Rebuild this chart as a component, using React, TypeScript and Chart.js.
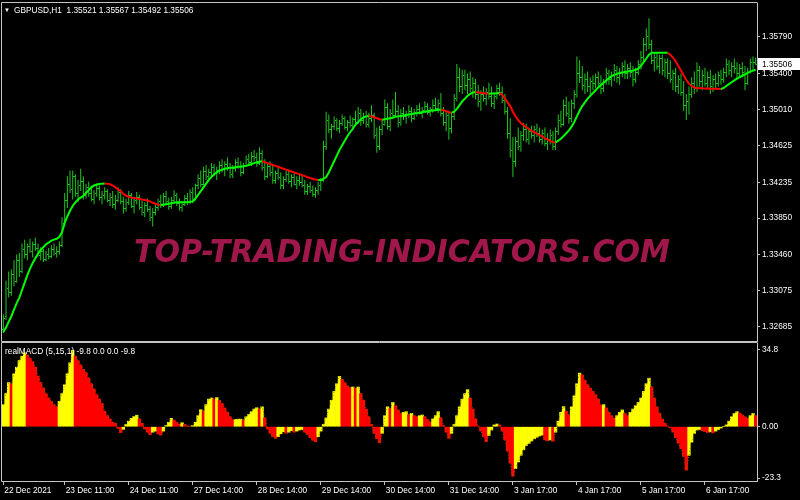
import React, { useEffect, useRef } from 'react';
import { Chart, registerables } from 'chart.js';

Chart.register(...registerables);

// Prices are stored as pip offsets from BASE (1 pip = 0.0001)
const BASE = 1.32;

const opens = [
  66, 80, 110, 106, 125, 118, 140, 128, 152, 147,
  155, 150, 157, 153, 146, 150, 141, 147, 144, 152,
  148, 150, 156, 180, 205, 222, 216, 230, 212, 220,
  225, 210, 218, 212, 206, 212, 217, 208, 210, 214,
  205, 208, 200, 205, 213, 203, 196, 202, 210, 198,
  204, 208, 197, 192, 199, 195, 186, 192, 197, 203,
  199, 209, 203, 198, 205, 210, 201, 197, 200, 207,
  202, 213, 206, 220, 228, 222, 236, 230, 234, 240,
  233, 237, 242, 238, 243, 240, 232, 239, 245, 241,
  234, 242, 248, 245, 252, 250, 244, 255, 240, 230,
  241, 234, 226, 233, 229, 220, 227, 232, 225, 229,
  222, 226, 224, 221, 214, 219, 215, 211, 215, 220,
  226, 262, 290, 280, 284, 290, 282, 287, 292, 283,
  288, 285, 291, 288, 298, 290, 294, 286, 292, 296,
  274, 262, 280, 286, 304, 284, 298, 296, 300, 288,
  298, 294, 297, 300, 292, 299, 302, 298, 301, 305,
  299, 302, 306, 303, 308, 298, 288, 296, 282, 294,
  314, 336, 326, 338, 328, 334, 324, 330, 318, 310,
  318, 314, 320, 316, 308, 316, 324, 320, 312, 300,
  276, 258, 246, 268, 262, 274, 280, 270, 278, 274,
  280, 276, 270, 276, 266, 270, 274, 262, 278, 290,
  286, 306, 298, 292, 308, 318, 340, 336, 328, 334,
  326, 332, 330, 336, 330, 324, 332, 340, 334, 338,
  344, 336, 342, 348, 340, 346, 342, 334, 342, 350,
  358, 372, 380, 372, 354, 358, 348, 356, 344, 352,
  340, 334, 340, 326, 334, 320, 306, 310, 318, 330,
  324, 344, 332, 338, 330, 336, 326, 334, 330, 338,
  334, 342, 350, 344, 348, 346, 340, 346, 342, 330,
  342, 352, 352.1,
];

const highs = [
  82, 118, 128, 130, 140, 146, 148, 158, 162, 158,
  163, 160, 164, 158, 154, 152, 150, 153, 156, 158,
  155, 160, 186, 212, 230, 236, 236, 232, 226, 238,
  230, 222, 224, 220, 215, 222, 220, 214, 218, 216,
  212, 214, 210, 218, 216, 208, 206, 214, 212, 208,
  213, 210, 204, 202, 206, 198, 196, 200, 206, 210,
  212, 214, 207, 208, 215, 212, 206, 203, 210, 212,
  216, 218, 222, 232, 236, 240, 242, 238, 244, 243,
  240, 246, 248, 246, 250, 244, 242, 248, 250, 246,
  244, 252, 254, 256, 258, 255, 261, 258, 248, 244,
  246, 242, 236, 240, 234, 230, 236, 236, 232, 234,
  230, 232, 230, 226, 222, 224, 220, 218, 224, 228,
  268, 299, 296, 286, 294, 292, 290, 296, 294, 290,
  295, 293, 300, 304, 302, 298, 300, 298, 306, 298,
  282, 284, 290, 312, 308, 302, 312, 320, 306, 302,
  304, 300, 306, 304, 302, 306, 308, 304, 310, 308,
  304, 312, 314, 312, 319, 304, 300, 300, 298, 318,
  350, 346, 344, 344, 340, 342, 336, 334, 328, 322,
  326, 324, 330, 326, 320, 328, 330, 326, 318, 304,
  292, 272, 272, 282, 278, 287, 286, 282, 284, 284,
  286, 282, 280, 282, 276, 280, 278, 282, 296, 300,
  312, 315, 310, 312, 322, 358, 354, 348, 340, 342,
  336, 338, 340, 342, 338, 334, 346, 344, 342, 350,
  348, 346, 352, 354, 350, 352, 348, 346, 354, 364,
  378, 388, 399, 376, 362, 362, 360, 360, 356, 356,
  354, 344, 346, 338, 340, 332, 318, 326, 336, 342,
  352, 348, 344, 346, 342, 344, 338, 340, 342, 344,
  346, 356, 354, 352, 356, 352, 350, 352, 348, 346,
  356, 358, 356.7,
];

const lows = [
  62, 76, 100, 102, 112, 116, 122, 126, 142, 140,
  148, 143, 150, 144, 140, 138, 139, 141, 142, 145,
  143, 146, 154, 176, 196, 212, 205, 208, 202, 214,
  205, 206, 208, 203, 200, 208, 204, 200, 205, 202,
  198, 196, 194, 202, 200, 190, 192, 199, 196, 190,
  200, 194, 188, 186, 192, 182, 176, 188, 193, 196,
  197, 200, 194, 195, 202, 198, 193, 192, 198, 199,
  200, 201, 204, 216, 218, 220, 226, 224, 228, 230,
  226, 232, 234, 230, 236, 228, 228, 235, 238, 230,
  232, 240, 242, 241, 246, 240, 242, 236, 226, 228,
  230, 222, 222, 226, 216, 216, 224, 222, 218, 220,
  216, 220, 218, 210, 210, 212, 208, 207, 210, 214,
  224, 258, 276, 270, 280, 278, 276, 284, 280, 278,
  282, 279, 284, 286, 284, 286, 282, 282, 288, 270,
  255, 258, 274, 284, 280, 278, 292, 294, 282, 284,
  290, 286, 292, 288, 290, 294, 296, 292, 298, 296,
  294, 298, 300, 298, 294, 284, 278, 269, 276, 290,
  310, 320, 318, 322, 318, 320, 314, 312, 304, 300,
  310, 306, 312, 304, 302, 312, 316, 308, 296, 270,
  250, 229, 240, 258, 256, 268, 266, 264, 270, 266,
  272, 266, 264, 262, 258, 264, 258, 258, 274, 282,
  284, 294, 286, 288, 302, 314, 330, 322, 318, 320,
  316, 322, 324, 326, 318, 320, 328, 328, 326, 332,
  330, 328, 336, 334, 334, 336, 326, 330, 338, 344,
  352, 364, 366, 350, 342, 344, 340, 338, 336, 334,
  330, 322, 320, 318, 316, 300, 290, 296, 314, 318,
  320, 326, 322, 326, 324, 318, 320, 324, 326, 328,
  330, 336, 338, 336, 340, 334, 336, 336, 322, 328,
  340, 344, 349.2,
];

const closes = [
  78, 110, 106, 125, 118, 140, 128, 152, 147, 155,
  150, 157, 153, 146, 150, 141, 147, 144, 152, 148,
  150, 156, 180, 205, 222, 216, 230, 212, 220, 225,
  210, 218, 212, 206, 212, 217, 208, 210, 214, 205,
  208, 200, 205, 213, 203, 196, 202, 210, 198, 204,
  208, 197, 192, 199, 195, 186, 192, 197, 203, 199,
  209, 203, 198, 205, 210, 201, 197, 200, 207, 202,
  213, 206, 220, 228, 222, 236, 230, 234, 240, 233,
  237, 242, 238, 243, 240, 232, 239, 245, 241, 234,
  242, 248, 245, 252, 250, 244, 255, 240, 230, 241,
  234, 226, 233, 229, 220, 227, 232, 225, 229, 222,
  226, 224, 221, 214, 219, 215, 211, 215, 220, 226,
  262, 290, 280, 284, 290, 282, 287, 292, 283, 288,
  285, 291, 288, 298, 290, 294, 286, 292, 296, 274,
  262, 280, 286, 304, 284, 298, 296, 300, 288, 298,
  294, 297, 300, 292, 299, 302, 298, 301, 305, 299,
  302, 306, 303, 308, 298, 288, 296, 282, 294, 314,
  336, 326, 338, 328, 334, 324, 330, 318, 310, 318,
  314, 320, 316, 308, 316, 324, 320, 312, 300, 276,
  258, 246, 268, 262, 274, 280, 270, 278, 274, 280,
  276, 270, 276, 266, 270, 274, 262, 278, 290, 286,
  306, 298, 292, 308, 318, 340, 336, 328, 334, 326,
  332, 330, 336, 330, 324, 332, 340, 334, 338, 344,
  336, 342, 348, 340, 346, 342, 334, 342, 350, 358,
  372, 380, 372, 354, 358, 348, 356, 344, 352, 340,
  334, 340, 326, 334, 320, 306, 310, 318, 330, 324,
  344, 332, 338, 330, 336, 326, 334, 330, 338, 334,
  342, 350, 344, 348, 346, 340, 346, 342, 330, 342,
  352, 352.1, 350.6,
];

const maLine = [
  63, 68, 74, 80, 87, 94, 100, 108, 116, 124,
  131, 137, 142, 147, 151, 154, 157, 159, 161, 162,
  163, 165, 170, 180, 187, 193, 198, 202, 205, 207,
  209, 212, 215, 218, 220, 221, 221.5, 222, 222.2, 222,
  221.5, 220, 218, 216, 214, 211, 209, 208, 207, 206.5,
  206, 205.5, 205, 204.5, 204, 203, 201.5, 200.5, 199.5, 199,
  199.5, 200, 200.5, 201, 201.5, 202, 202, 202, 202, 202,
  202.5, 203, 206, 210, 214, 218, 222, 226, 229, 232,
  234, 236, 237, 238, 238.5, 239, 239, 239.5, 240, 240,
  240.5, 241, 242, 243, 244, 245, 245.5, 246, 245, 244,
  243, 242, 241, 240, 239, 238, 237, 236, 235, 234,
  233, 232, 231, 230, 229, 228, 227, 226.5, 226, 226,
  227, 229, 234, 240, 246, 252, 258, 263, 268, 273,
  277, 281, 285, 288, 291, 293, 294, 294.5, 294, 293,
  292, 291, 290.5, 291, 291.5, 292, 292.5, 293.5, 294, 294.5,
  295, 295.5, 296, 296.5, 297, 297.5, 298, 298.5, 299, 299.5,
  300, 300.3, 300.6, 301, 301.2, 300.5, 299.5, 298.5, 298, 299,
  302, 306, 310, 313, 316, 318, 319.5, 320, 319.6, 319.2,
  318.8, 318.4, 318.2, 318.4, 318.6, 318.8, 319, 317, 313, 309,
  305, 299, 294, 290, 287, 284.5, 282.5, 280.5, 278.5, 277,
  275.5, 274, 272.5, 270.5, 269, 267.5, 266.5, 266, 268, 270,
  273, 276, 279, 283, 288, 294, 300, 305, 309, 313,
  316, 319, 322, 325, 327.5, 330, 332.5, 335, 337, 338.5,
  339.5, 340.5, 341, 341.5, 342, 342.5, 343, 344, 345, 348,
  352, 356, 360, 362, 362, 362, 362, 362, 362, 362,
  360, 357, 353, 348, 343, 338, 333, 329, 326.5, 325,
  324.5, 324.2, 324, 323.9, 323.8, 323.7, 323.6, 323.5, 323.4, 323.3,
  324.5, 326.5, 328.5, 330.5, 332.5, 334.5, 336, 337.5, 339, 340.5,
  342, 343, 344,
];

const macd = [
  10, 15, 20, 19.5, 24, 27, 30, 32, 33.5, 32.5,
  31, 29.5, 27, 23, 20, 17.5, 15, 13, 11.5, 10,
  9, 11.5, 15, 19, 24, 29, 34.6, 32, 30, 28,
  26, 24.5, 22, 19.5, 17, 14.5, 12.5, 10.5, 7, 5,
  3.5, 2, 1.5, -0.8, -2.7, -1.2, 1, 2.5, 3.8, 4.6,
  5.2, 3.5, 1.5, -1, -2.5, -3.6, -2.5, -2, -3.2, -3.8,
  -2, 0.5, 2, 3.8, 3, 2, 1, 1.8, 1, 0.3,
  0.2, 0.5, 2, 5, 7.7, 7, 10, 12.5, 13, 12.6,
  13.2, 12, 10.5, 8.5, 6.5, 4.5, 3.2, 3.3, 3.4, 3.4,
  3.0, 4.5, 5.5, 6.8, 8, 8.6, 8, 9, 4, -1,
  -3, -4.5, -5.3, -4.5, -3.2, -2.3, -3, -2.5, -1.8, -2.5,
  -2, -1.5, -1.3, -2.5, -3.5, -5, -6.2, -6.8, -4.5, -2,
  1, 4, 8, 12, 16, 19.5, 22.8, 21.5, 20, 18.5,
  17.7, 18, 17.5, 18, 15, 12, 8, 4.5, 1, -3,
  -5.5, -7.3, -3, 5, 9, 8.3, 11, 9.5, 7.5, 6,
  6.5, 6.8, 5.5, 6, 5, 4.5, 5, 5.3, 4.5, 3.3,
  2, 3.5, 5, 6.8, 4, 0.5, -2.5, -5.3, -3, 1,
  5, 9, 12.5, 15, 16.8, 13, 8, 3.5, 0.3, -2,
  -4.5, -6.8, -4, -1.5, 0.8, 1.2, 0.8, -2, -6, -11,
  -16.5, -22.5, -19, -16, -13, -10.5, -8.5, -7.6, -6.5, -5.5,
  -4.8, -4.2, -3.8, -6, -6.4, -6, -6.6, -2.5, 2.5, 6.5,
  9.1, 7, 5.3, 9, 14, 19.5, 24.3, 23.5, 21, 19,
  17.5, 16, 14.5, 12.5, 9.8, 10, 8.5, 6.5, 5, 3.8,
  5, 6.5, 7.6, 6, 5, 6.5, 8, 9.5, 11, 13,
  16, 19.5, 22, 18, 13, 9, 6, 3.5, 1.5, 0.3,
  -0.5, -2.5, -5, -7.5, -10, -13.5, -19.7, -13, -7, -3,
  -1.5, -1.3, -1.8, -2.2, -2.6, -2.3, -2.8, -2, -1.3, -0.6,
  0, 0.8, 2.5, 4.5, 6, 6.8, 6.2, 5.3, 4.5, 3.8,
  5, 6, 5,
];

const priceTicks = [1.3579, 1.354, 1.3501, 1.34625, 1.34235, 1.3385, 1.3346, 1.33075, 1.32685];
const macdTicks = [34.8, 0, -23.3];
const macdTickLabels = ['34.8', '0.00', '-23.3'];
const timeTickBars = [0, 23, 47, 71, 95, 119, 143, 167, 191, 215, 239, 263];
const timeTickLabels = [
  '22 Dec 2021', '23 Dec 11:00', '24 Dec 11:00', '27 Dec 14:00', '28 Dec 14:00', '29 Dec 14:00',
  '30 Dec 14:00', '31 Dec 14:00', '3 Jan 17:00', '4 Jan 17:00', '5 Jan 17:00', '6 Jan 17:00',
];
const symbolTitle = 'GBPUSD,H1  1.35521 1.35567 1.35492 1.35506';
const macdTitle = 'realMACD (5,15,1) -9.8 0.0 0.0 -9.8';
const watermark = 'TOP-TRADING-INDICATORS.COM';

const toPrice = (p: number) => BASE + p / 10000;

const FONT = { family: '"Liberation Sans", Arial, sans-serif', size: 8.3 };
const AXIS_COLOR = '#c4c4c4';
const TEXT_COLOR = '#ffffff';
const BAR_COLOR = '#1ec81e';

const noPad = (s: any) => {
  s.paddingTop = 0;
  s.paddingBottom = 0;
  s.paddingLeft = 0;
  s.paddingRight = 0;
};

const frame = {
  id: 'frame',
  afterDraw(chart: any) {
    const { ctx, chartArea } = chart;
    ctx.save();
    ctx.strokeStyle = AXIS_COLOR;
    ctx.lineWidth = 1;
    ctx.beginPath();
    ctx.moveTo(chartArea.left - 0.5, chartArea.bottom + 0.5);
    ctx.lineTo(chartArea.left - 0.5, chartArea.top - 0.5);
    ctx.lineTo(chartArea.right + 0.5, chartArea.top - 0.5);
    ctx.moveTo(chartArea.left - 0.5, chartArea.bottom + 0.5);
    ctx.lineTo(chartArea.right + 0.5, chartArea.bottom + 0.5);
    ctx.stroke();
    ctx.restore();
  },
};

const ohlcTicks = {
  id: 'ohlcTicks',
  beforeDatasetsDraw(chart: any) {
    const xs = chart.scales.x;
    const ys = chart.scales.y;
    const ctx = chart.ctx;
    ctx.save();
    ctx.fillStyle = BAR_COLOR;
    for (let i = 0; i < closes.length; i++) {
      const x = Math.floor(xs.getPixelForValue(i));
      const yo = Math.round(ys.getPixelForValue(toPrice(opens[i])));
      const yc = Math.round(ys.getPixelForValue(toPrice(closes[i])));
      ctx.fillRect(x - 1, yo, 1, 1);
      ctx.fillRect(x + 1, yc, 1, 1);
    }
    ctx.restore();
  },
};

const lastPrice = {
  id: 'lastPrice',
  afterDraw(chart: any) {
    const ys = chart.scales.y;
    const ctx = chart.ctx;
    const v = toPrice(closes[closes.length - 1]);
    const y = Math.round(ys.getPixelForValue(v));
    ctx.save();
    ctx.fillStyle = '#ffffff';
    ctx.fillRect(chart.chartArea.right + 1, y - 6, 42, 12);
    ctx.fillStyle = '#000000';
    ctx.font = `${FONT.size}px ${FONT.family}`;
    ctx.textBaseline = 'middle';
    ctx.textAlign = 'left';
    ctx.fillText(v.toFixed(5), chart.chartArea.right + 5, y + 0.5);
    ctx.restore();
  },
};

export default function App() {
  const topRef = useRef<HTMLCanvasElement>(null);
  const botRef = useRef<HTMLCanvasElement>(null);

  useEffect(() => {
    const labels = closes.map((_, i) => i);
    const labelMap: Record<number, string> = {};
    timeTickBars.forEach((b, i) => (labelMap[b] = timeTickLabels[i]));

    const top = new Chart(topRef.current as HTMLCanvasElement, {
      type: 'bar',
      data: {
        labels,
        datasets: [
          {
            type: 'line',
            data: maLine.map(toPrice),
            borderColor: '#00ff00',
            borderWidth: 2,
            pointRadius: 0,
            tension: 0,
            order: 0,
            segment: {
              borderColor: (c: any) => (c.p1.parsed.y < c.p0.parsed.y ? '#ff0000' : '#00ff00'),
            },
          } as any,
          {
            type: 'bar',
            data: lows.map((l, i) => [toPrice(l), toPrice(highs[i])]),
            backgroundColor: BAR_COLOR,
            barThickness: 1,
            inflateAmount: 0,
            order: 1,
          } as any,
        ],
      },
      options: {
        animation: false,
        responsive: false,
        maintainAspectRatio: false,
        events: [],
        layout: { padding: { left: 2, top: 3, right: 0, bottom: 1 } },
        plugins: { legend: { display: false }, tooltip: { enabled: false } },
        scales: {
          x: { display: false, offset: true, afterFit: noPad },
          y: {
            position: 'right',
            min: 1.32535,
            max: 1.36154,
            afterFit: (s: any) => {
              s.width = 43;
              noPad(s);
            },
            afterBuildTicks: (s: any) => {
              s.ticks = priceTicks.map((v) => ({ value: v }));
            },
            ticks: {
              callback: (v: any) => Number(v).toFixed(5),
              color: TEXT_COLOR,
              font: FONT,
              padding: 2,
            },
            grid: { drawOnChartArea: false, color: AXIS_COLOR, tickLength: 3 },
            border: { color: AXIS_COLOR },
          },
        },
      } as any,
      plugins: [ohlcTicks, frame, lastPrice],
    });

    const bot = new Chart(botRef.current as HTMLCanvasElement, {
      type: 'bar',
      data: {
        labels,
        datasets: [
          {
            type: 'line',
            data: macd,
            borderColor: 'rgba(120,120,0,0.9)',
            borderWidth: 1,
            borderDash: [1, 2],
            pointRadius: 0,
            order: 0,
          } as any,
          {
            type: 'bar',
            data: macd,
            backgroundColor: macd.map((v, i) => (i > 0 && v < macd[i - 1] ? '#ff0000' : '#ffff00')),
            barPercentage: 1,
            categoryPercentage: 1,
            order: 1,
          } as any,
        ],
      },
      options: {
        animation: false,
        responsive: false,
        maintainAspectRatio: false,
        events: [],
        layout: { padding: { left: 2, top: 1, right: 0, bottom: 0 } },
        plugins: { legend: { display: false }, tooltip: { enabled: false } },
        scales: {
          x: {
            offset: true,
            afterFit: (s: any) => {
              s.height = 19;
              noPad(s);
            },
            afterBuildTicks: (s: any) => {
              s.ticks = timeTickBars.map((v) => ({ value: v }));
            },
            ticks: {
              callback: (v: any) => labelMap[v] ?? '',
              autoSkip: false,
              maxRotation: 0,
              minRotation: 0,
              align: 'start',
              labelOffset: 1,
              color: TEXT_COLOR,
              font: FONT,
              padding: 1,
            },
            grid: { drawOnChartArea: false, offset: false, color: AXIS_COLOR, tickLength: 4 },
            border: { color: AXIS_COLOR },
          },
          y: {
            position: 'right',
            min: -24.64,
            max: 37.97,
            afterFit: (s: any) => {
              s.width = 43;
              noPad(s);
            },
            afterBuildTicks: (s: any) => {
              s.ticks = macdTicks.map((v) => ({ value: v }));
            },
            ticks: {
              callback: (v: any) => macdTickLabels[macdTicks.indexOf(Number(v))] ?? '',
              color: TEXT_COLOR,
              font: FONT,
              padding: 2,
            },
            grid: { drawOnChartArea: false, color: AXIS_COLOR, tickLength: 3 },
            border: { color: AXIS_COLOR },
          },
        },
      } as any,
      plugins: [frame],
    });

    return () => {
      top.destroy();
      bot.destroy();
    };
  }, []);

  const textStyle: React.CSSProperties = {
    position: 'absolute',
    color: TEXT_COLOR,
    fontFamily: FONT.family,
    fontSize: FONT.size,
    whiteSpace: 'pre',
    lineHeight: '10px',
  };

  return (
    <div style={{ position: 'fixed', left: 0, top: 0, width: 800, height: 500, background: '#000', overflow: 'hidden' }}>
      <canvas ref={topRef} width={800} height={342} style={{ position: 'absolute', left: 0, top: 0, display: 'block' }} />
      <canvas ref={botRef} width={800} height={158} style={{ position: 'absolute', left: 0, top: 342, display: 'block' }} />
      <div
        style={{
          position: 'absolute',
          left: 402,
          top: 235,
          transform: 'translateX(-50%) scaleX(0.94)',
          color: '#a0174c',
          fontFamily: '"DejaVu Sans", sans-serif',
          fontWeight: 'bold',
          fontStyle: 'italic',
          fontSize: 32,
          lineHeight: '32px',
          whiteSpace: 'nowrap',
        }}
      >
        {watermark}
      </div>
      <div style={{ ...textStyle, left: 4, top: 5, fontSize: 6 }}>▼</div>
      <div style={{ ...textStyle, left: 14, top: 5 }}>{symbolTitle}</div>
      <div style={{ ...textStyle, left: 5, top: 346 }}>{macdTitle}</div>
    </div>
  );
}
